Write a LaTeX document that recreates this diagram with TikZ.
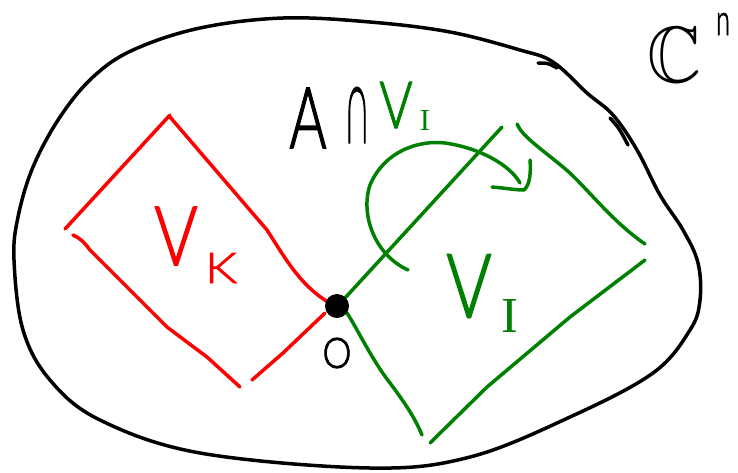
\documentclass[tikz,border=0pt]{standalone}
\usepackage{amssymb}
\usepackage{fontspec}
\setmainfont{Liberation Sans}
\newfontfamily\thin{Lato Light}[FakeBold=2]
\newfontfamily\serifI{Liberation Serif}
\definecolor{penred}{RGB}{255,0,0}
\definecolor{pengreen}{RGB}{0,128,0}
\tikzset{
  pen/.style={line width=3.5pt, line cap=round, line join=round},
  blackpen/.style={pen, black},
  redpen/.style={pen, penred},
  greenpen/.style={pen, pengreen},
  lbl/.style={inner sep=0pt, outer sep=0pt, anchor=center, font=\thin}
}
\begin{document}
\begin{tikzpicture}[x=1pt,y=-1pt]
\useasboundingbox[fill=white] (0,0) rectangle (738,472);
% outer region
\draw[blackpen] plot[smooth cycle, tension=0.6] coordinates {
 (18,217) (33,167) (60,117) (93,77) (133,50) (200,28) (283,18) (370,22)
 (450,32) (520,50) (553,62) (587,93) (613,115) (637,150) (660,195)
 (683,230) (698,263) (700,300) (690,330) (653,373) (570,417) (470,457)
 (370,468) (200,453) (100,420) (50,380) (23,330) (14,260)};
\draw[blackpen] (538,63) .. controls (548,63) .. (557,68);
\draw[blackpen] (610,118) .. controls (619,128) .. (628,145);
% V_K (red)
\draw[redpen] (65,229) -- (170,115);
\draw[redpen] (170,117) -- (267,230) .. controls (285,258) and (300,285) .. (328,302);
\draw[redpen] (73,235) .. controls (80,238) and (84,242) .. (90,250) -- (167,327) -- (207,357) -- (240,387);
\draw[redpen] (252,380) -- (283,353) -- (325,313);
% V_I (green)
\draw[greenpen] (345,298) -- (502,127);
\draw[greenpen] (517,124) .. controls (522,136) and (540,148) .. (563,167) .. controls (585,185) and (610,220) .. (645,244);
\draw[greenpen] (645,260) -- (570,317) -- (487,387) -- (430,443);
\draw[greenpen] (347,313) .. controls (358,330) and (372,360) .. (390,383) .. controls (405,403) and (415,418) .. (422,435);
% curved arrow
\draw[greenpen] (408,270) .. controls (375,255) and (360,215) .. (370,185)
  .. controls (385,150) and (420,140) .. (445,143)
  .. controls (480,148) and (510,165) .. (520,183);
\draw[greenpen] (492,187) .. controls (505,188) and (515,190) .. (524,190)
  .. controls (530,185) and (531,172) .. (530,160);
% origin
\node[circle, fill=black, minimum size=24pt, inner sep=0pt] (O) at (337,306) {};
% labels
\node[lbl] (cC) at (675,55) {\resizebox{54pt}{55pt}{$\mathbb{C}$}};
\node[lbl] (cn) at (723,24) {\resizebox{14pt}{22pt}{n}};
\node[lbl] (aA) at (308,118) {\resizebox{37pt}{60pt}{A}};
\node[lbl] (acap) at (357,115) {\resizebox{21pt}{55pt}{∩}};
\node[lbl, text=pengreen] (aV) at (396,105) {\resizebox{33pt}{46pt}{V}};
\node[lbl, text=pengreen] (aI) at (425,120) {\resizebox{!}{20pt}{\serifI I}};
\node[lbl, text=penred] (kV) at (176,236) {\resizebox{43pt}{58pt}{V}};
\node[lbl, text=penred] (kK) at (221,268) {\resizebox{32pt}{30pt}{K}};
\node[lbl, text=pengreen] (iV) at (469,286) {\resizebox{45pt}{63pt}{V}};
\node[lbl, text=pengreen] (iI) at (510,316) {\resizebox{!}{33pt}{\serifI I}};
\node[lbl] (olbl) at (337,353) {\resizebox{29pt}{30pt}{O}};
\end{tikzpicture}
\end{document}
